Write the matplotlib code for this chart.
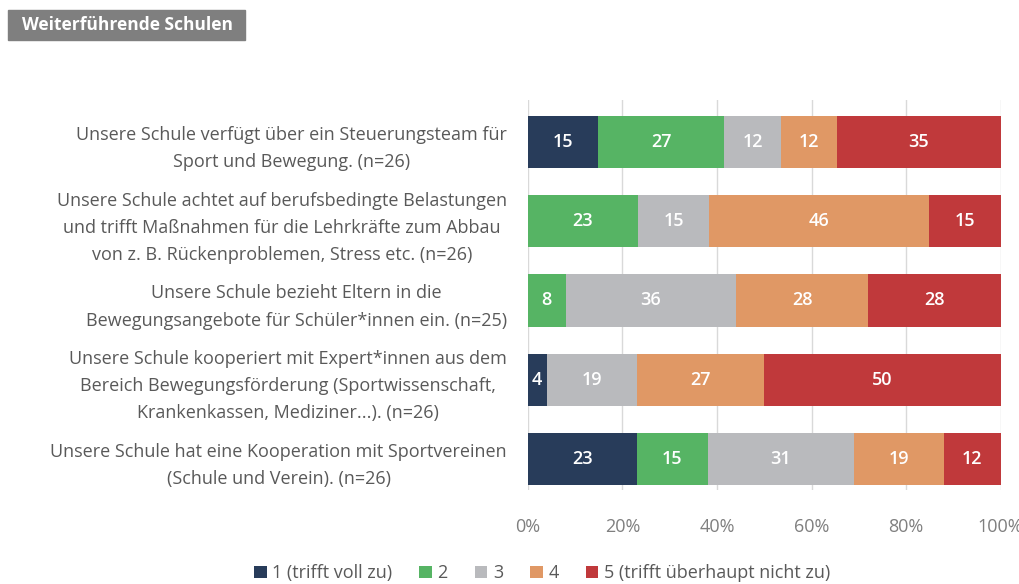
import numpy as np
import matplotlib.pyplot as plt
from matplotlib.patches import Rectangle

plt.rcParams['font.family'] = ['Open Sans', 'DejaVu Sans']

# Aussagen (von oben nach unten)
aussagen = [
    'Unsere Schule verfügt über ein Steuerungsteam für\nSport und Bewegung. (n=26)',
    'Unsere Schule achtet auf berufsbedingte Belastungen\nund trifft Maßnahmen für die Lehrkräfte zum Abbau\nvon z. B. Rückenproblemen, Stress etc. (n=26)',
    'Unsere Schule bezieht Eltern in die\nBewegungsangebote für Schüler*innen ein. (n=25)',
    'Unsere Schule kooperiert mit Expert*innen aus dem\nBereich Bewegungsförderung (Sportwissenschaft,\nKrankenkassen, Mediziner...). (n=26)',
    'Unsere Schule hat eine Kooperation mit Sportvereinen\n(Schule und Verein). (n=26)',
]

# Antworten in Prozent je Stufe
stufe1 = [15, 0, 0, 4, 23]
stufe2 = [27, 23, 8, 0, 15]
stufe3 = [12, 15, 36, 19, 31]
stufe4 = [12, 46, 28, 27, 19]
stufe5 = [35, 15, 28, 50, 12]

legende = ['1 (trifft voll zu)', '2', '3', '4', '5 (trifft überhaupt nicht zu)']
farben = ['#283c5a', '#56b464', '#b9babd', '#e09865', '#c0393b']
xticks = [0, 20, 40, 60, 80, 100]

werte = np.array([stufe1, stufe2, stufe3, stufe4, stufe5], dtype=float)
anteile = werte / werte.sum(axis=0) * 100  # 100%-gestapelt

fig = plt.figure(figsize=(10.19, 5.84), dpi=100)
ax = fig.add_axes([0.518, 0.161, 0.464, 0.668])

y = np.arange(len(aussagen))
links = np.zeros(len(aussagen))
for i in range(5):
    bars = ax.barh(y, anteile[i], left=links, height=0.66, color=farben[i],
                   label=legende[i], zorder=3)
    for b, v in zip(bars, werte[i]):
        if v > 0:
            ax.text(b.get_x() + b.get_width() / 2, b.get_y() + b.get_height() / 2,
                    f'{v:.0f}', ha='center', va='center', color='white',
                    fontsize=13, fontweight='semibold', zorder=4)
    links += anteile[i]

ax.set_xlim(0, 100)
ax.set_ylim(4.39, -0.53)
ax.set_xticks(xticks)
ax.set_xticklabels([f'{t}%' for t in xticks])
ax.set_yticks(y)
ax.set_yticklabels(aussagen)
for lbl in ax.get_yticklabels():
    lbl.set_multialignment('center')
    lbl.set_linespacing(1.65)
ax.tick_params(axis='y', length=0, pad=15, labelsize=13, labelcolor='#595959')
ax.tick_params(axis='x', length=0, pad=20, labelsize=13, labelcolor='#7f7f7f')
ax.grid(axis='x', color='#d9d9d9', lw=1, zorder=0)
for s in ax.spines.values():
    s.set_visible(False)

fig.legend(loc='lower center', bbox_to_anchor=(0.532, -0.025), ncol=5,
           frameon=False, fontsize=13, handlelength=0.7, handleheight=0.7,
           handletextpad=0.3, columnspacing=1.5, labelcolor='#595959')

# Überschrift mit grauem Kasten
fig.patches.append(Rectangle((8 / 1019, 1 - 40 / 584), 237 / 1019, 30 / 584,
                             transform=fig.transFigure, color='#7f7f7f', zorder=0))
fig.text(127 / 1019, 1 - 25 / 584, 'Weiterführende Schulen', ha='center', va='center',
         color='white', fontsize=12.5, fontweight='bold')

fig.savefig('out.png', dpi=100)
